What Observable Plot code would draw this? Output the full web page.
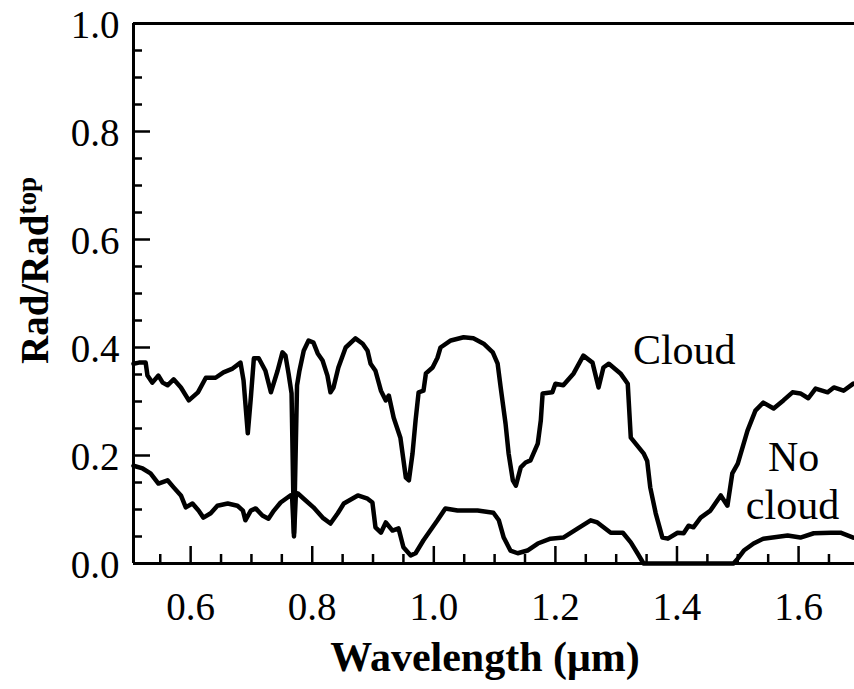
<!DOCTYPE html>
<html>
<head>
<meta charset="utf-8">
<script src="https://cdn.jsdelivr.net/npm/d3@7"></script>
<script src="https://cdn.jsdelivr.net/npm/@observablehq/plot@0.6"></script>
<style>
  html, body { margin: 0; padding: 0; background: #fff; }
  svg { display: block; }
</style>
</head>
<body>
<div id="chart"></div>
<script>
// Spectral radiance ratio below cloud vs. clear sky (Rad / Rad at top of atmosphere)
const cloudWavelength = [0.506,0.515,0.526,0.529,0.537,0.547,0.554,0.562,0.572,0.584,0.597,0.612,0.625,0.641,0.654,0.669,0.682,0.687,0.694,0.699,0.704,0.712,0.723,0.732,0.743,0.751,0.756,0.761,0.766,0.770,0.775,0.779,0.786,0.794,0.802,0.809,0.817,0.825,0.830,0.835,0.843,0.855,0.871,0.883,0.891,0.896,0.904,0.913,0.921,0.926,0.934,0.945,0.954,0.959,0.965,0.970,0.975,0.983,0.987,0.998,1.006,1.011,1.028,1.049,1.065,1.082,1.097,1.105,1.110,1.118,1.123,1.130,1.135,1.143,1.151,1.159,1.171,1.176,1.179,1.195,1.200,1.213,1.230,1.246,1.261,1.271,1.279,1.288,1.307,1.319,1.324,1.345,1.351,1.356,1.365,1.376,1.385,1.401,1.411,1.419,1.427,1.439,1.455,1.472,1.483,1.491,1.500,1.516,1.529,1.542,1.559,1.575,1.590,1.603,1.616,1.628,1.648,1.658,1.674,1.690];
const cloudRad = [0.370,0.372,0.372,0.348,0.335,0.348,0.335,0.330,0.341,0.326,0.302,0.317,0.344,0.344,0.354,0.361,0.372,0.339,0.241,0.307,0.380,0.380,0.357,0.317,0.357,0.391,0.385,0.352,0.315,0.056,0.330,0.357,0.394,0.413,0.409,0.389,0.376,0.348,0.317,0.326,0.363,0.400,0.417,0.407,0.394,0.370,0.357,0.320,0.302,0.311,0.270,0.233,0.159,0.154,0.204,0.265,0.317,0.320,0.352,0.363,0.381,0.400,0.413,0.419,0.417,0.407,0.391,0.370,0.326,0.259,0.204,0.154,0.144,0.178,0.187,0.191,0.222,0.265,0.315,0.317,0.333,0.330,0.352,0.385,0.372,0.326,0.363,0.370,0.352,0.333,0.233,0.204,0.190,0.141,0.093,0.048,0.046,0.057,0.056,0.070,0.067,0.085,0.098,0.126,0.107,0.167,0.185,0.246,0.283,0.298,0.287,0.302,0.317,0.315,0.306,0.324,0.317,0.326,0.320,0.333];

const clearWavelength = [0.506,0.521,0.534,0.547,0.562,0.572,0.584,0.592,0.603,0.613,0.621,0.633,0.644,0.661,0.677,0.686,0.690,0.699,0.707,0.718,0.728,0.737,0.748,0.764,0.767,0.770,0.773,0.776,0.786,0.802,0.817,0.830,0.842,0.852,0.875,0.891,0.899,0.904,0.913,0.921,0.932,0.942,0.950,0.962,0.970,0.983,1.006,1.019,1.039,1.072,1.098,1.107,1.115,1.126,1.138,1.154,1.171,1.192,1.213,1.237,1.258,1.269,1.291,1.311,1.324,1.335,1.345,1.493,1.500,1.510,1.526,1.542,1.582,1.603,1.625,1.653,1.669,1.690];
const clearRad = [0.181,0.176,0.167,0.148,0.154,0.141,0.126,0.104,0.111,0.098,0.085,0.093,0.107,0.111,0.107,0.098,0.080,0.098,0.102,0.089,0.083,0.098,0.113,0.126,0.120,0.050,0.125,0.130,0.120,0.104,0.085,0.074,0.093,0.111,0.126,0.120,0.113,0.067,0.057,0.076,0.061,0.065,0.030,0.015,0.019,0.043,0.080,0.102,0.098,0.098,0.094,0.080,0.048,0.024,0.019,0.024,0.037,0.046,0.048,0.065,0.080,0.076,0.057,0.057,0.039,0.019,0.000,0.000,0.009,0.024,0.037,0.046,0.052,0.048,0.056,0.057,0.057,0.048];

// Axis ticks
const xMajorTicks = [0.6, 0.8, 1.0, 1.2, 1.4, 1.6];
const xMinorTicks = [0.55, 0.65, 0.7, 0.75, 0.85, 0.9, 0.95, 1.05, 1.1, 1.15, 1.25, 1.3, 1.35, 1.45, 1.5, 1.55, 1.65];
const yMajorTicks = [0.0, 0.2, 0.4, 0.6, 0.8, 1.0];
const yMinorTicks = [0.05, 0.1, 0.15, 0.25, 0.3, 0.35, 0.45, 0.5, 0.55, 0.65, 0.7, 0.75, 0.85, 0.9, 0.95];

// Curve labels
const curveLabels = ["Cloud", "No", "cloud"];
const curveLabelX = [1.412, 1.592, 1.590];
const curveLabelY = [0.395, 0.197, 0.108];

const xDomain = [0.506, 1.692];

const cloud = cloudWavelength.map((w, i) => ({wl: w, rad: cloudRad[i]}));
const clear = clearWavelength.map((w, i) => ({wl: w, rad: clearRad[i]}));
const labels = curveLabels.map((t, i) => ({text: t, x: curveLabelX[i], y: curveLabelY[i]}));

const serif = "'Liberation Serif', 'Times New Roman', Times, serif";
const fmt = d3.format(".1f");

const chart = Plot.plot({
  width: 854,
  height: 689,
  marginLeft: 133,
  marginRight: 0,
  marginTop: 23,
  marginBottom: 126,
  style: {fontFamily: serif, background: "#fff", color: "#000"},
  x: {domain: xDomain, label: null},
  y: {domain: [0, 1], label: null},
  marks: [
    // inward-pointing ticks (shifted back across the axis line)
    Plot.axisX({ticks: xMinorTicks, tickSize: 9, dy: -9, tickFormat: () => "", strokeWidth: 2.5}),
    Plot.axisX({ticks: xMajorTicks, tickSize: 17, dy: -17, tickFormat: () => "", strokeWidth: 2.5}),
    Plot.axisY({ticks: yMinorTicks, tickSize: 9, dx: 9, tickFormat: () => "", strokeWidth: 2.5}),
    Plot.axisY({ticks: yMajorTicks, tickSize: 17, dx: 17, tickFormat: () => "", strokeWidth: 2.5}),
    // tick labels
    Plot.axisX({ticks: xMajorTicks, tickSize: 0, tickPadding: 29, tickFormat: fmt, fontSize: 39}),
    Plot.axisY({ticks: yMajorTicks, tickSize: 0, tickPadding: 14, tickFormat: fmt, fontSize: 39, dy: 2}),
    // frame: left, bottom and top
    Plot.ruleX([xDomain[0]], {strokeWidth: 3}),
    Plot.ruleY([0, 1], {strokeWidth: 3}),
    // spectra
    Plot.line(cloud, {x: "wl", y: "rad", stroke: "#000", strokeWidth: 4.5, strokeLinejoin: "round", strokeLinecap: "round"}),
    Plot.line(clear, {x: "wl", y: "rad", stroke: "#000", strokeWidth: 4.5, strokeLinejoin: "round", strokeLinecap: "round"}),
    // curve labels
    Plot.text(labels, {x: "x", y: "y", text: "text", fontSize: 42, fill: "#000"}),
    // axis titles
    Plot.text(["Wavelength (\u03bcm)"], {frameAnchor: "bottom", textAnchor: "middle", dx: -9, dy: 107, fontSize: 42, fontWeight: "bold", fill: "#000"}),
    Plot.text(["Rad/Rad"], {frameAnchor: "left", textAnchor: "middle", rotate: -90, dx: -98, dy: -23, fontSize: 39, fontWeight: "bold", fill: "#000"})
  ]
});

// superscript on the y-axis title
const yTitle = Array.from(chart.querySelectorAll("text")).find(t => t.textContent === "Rad/Rad");
if (yTitle) {
  const sup = document.createElementNS("http://www.w3.org/2000/svg", "tspan");
  sup.setAttribute("dy", "-0.45em");
  sup.setAttribute("font-size", "27");
  sup.textContent = "top";
  yTitle.appendChild(sup);
}

document.getElementById("chart").appendChild(chart);
</script>
</body>
</html>
